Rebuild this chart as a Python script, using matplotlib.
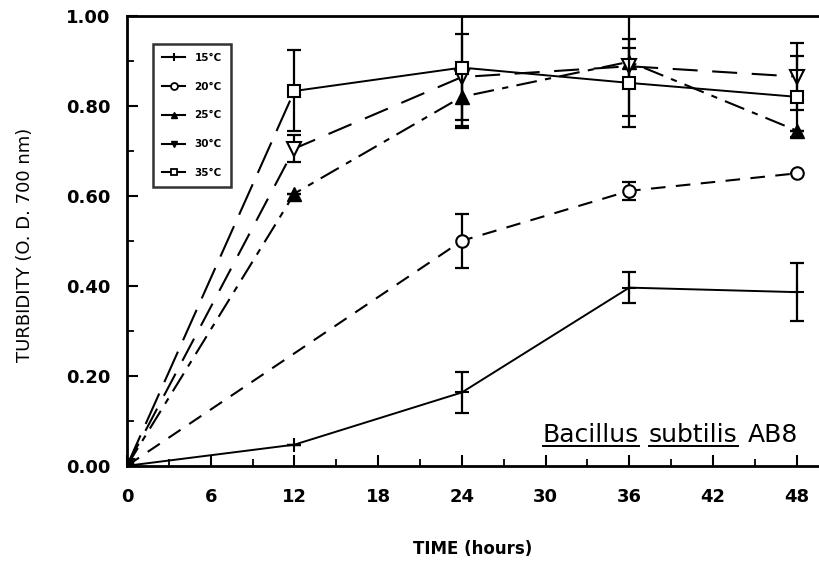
import matplotlib
matplotlib.use("Agg")
import matplotlib.pyplot as plt
from matplotlib.lines import Line2D
from matplotlib.ticker import MultipleLocator, FormatStrFormatter

plt.rcParams["font.family"] = ["DejaVu Sans"]

# data
hours = [0, 12, 24, 36, 48]
t15 = [0.0, 0.047, 0.163, 0.396, 0.386]
t15_err = [0, 0, 0.045, 0.035, 0.065]
t20 = [0.0, None, 0.50, 0.611, 0.650]
t20_err = [0, 0, 0.06, 0.02, 0]
t25 = [0.0, 0.605, 0.820, 0.898, 0.745]
t25_err = [0, 0, 0.07, 0.12, 0]
t30 = [0.0, 0.705, 0.864, 0.888, 0.865]
t30_err = [0, 0.03, 0.095, 0.04, 0.075]
t35 = [0.0, 0.833, 0.885, 0.851, 0.820]
t35_err = [0, 0.09, 0.13, 0.097, 0.09]
labels = ["15\u00b0C", "20\u00b0C", "25\u00b0C", "30\u00b0C", "35\u00b0C"]

fig = plt.figure(figsize=(8.19, 5.66), dpi=100)
ax = fig.add_axes([0.155, 0.177, 0.845, 0.795])

lw = 1.5
ekw = dict(ecolor="black", elinewidth=1.6, capsize=5, capthick=1.6, fmt="none")


def pts(y, e):
    xs, ys, es = [], [], []
    for h, v, d in zip(hours, y, e):
        if v is not None:
            xs.append(h)
            ys.append(v)
            es.append(d)
    return xs, ys, es


# 15 C - solid, plus markers
x, y, e = pts(t15, t15_err)
ax.errorbar(x, y, yerr=e, **ekw)
ax.plot(x, y, color="black", lw=1.4, marker="+", ms=10, mew=1.5)

# 20 C - short dashes, open circles
x, y, e = pts(t20, t20_err)
ax.errorbar(x, y, yerr=e, **ekw)
ax.plot(x, y, color="black", lw=lw, dashes=(7, 5), marker="o", ms=9,
        mfc="white", mew=1.5)

# 25 C - dash dot, filled triangles
x, y, e = pts(t25, t25_err)
ax.errorbar(x, y, yerr=e, **ekw)
ax.plot(x, y, color="black", lw=lw, dashes=(10, 4, 3, 4), marker="^", ms=10)

# 30 C - long dashes, open down triangles
x, y, e = pts(t30, t30_err)
ax.errorbar(x, y, yerr=e, **ekw)
ax.plot(x, y, color="black", lw=lw, dashes=(12, 7), marker="v", ms=10,
        mfc="white", mew=1.5)

# 35 C - long dashes to 12 h, solid afterwards, open squares
x, y, e = pts(t35, t35_err)
ax.errorbar(x, y, yerr=e, **ekw)
ax.plot(x[:2], y[:2], color="black", lw=lw, dashes=(16, 6))
ax.plot(x[1:], y[1:], color="black", lw=1.4, marker="s", ms=9,
        mfc="white", mew=1.5)
ax.plot(x[:1], y[:1], color="black", marker="s", ms=9, ls="none")

ax.set_xlim(0, 49.6)
ax.set_ylim(0, 1.0)
ax.xaxis.set_major_locator(MultipleLocator(6))
ax.xaxis.set_minor_locator(MultipleLocator(3))
ax.yaxis.set_major_locator(MultipleLocator(0.2))
ax.yaxis.set_minor_locator(MultipleLocator(0.1))
ax.yaxis.set_major_formatter(FormatStrFormatter("%.2f"))
ax.tick_params(which="major", direction="in", length=8, width=1.5,
               labelsize=13, pad=12)
ax.tick_params(which="minor", direction="in", length=5, width=1.3)
ax.tick_params(axis="x", pad=16)
for lab in ax.get_xticklabels() + ax.get_yticklabels():
    lab.set_fontweight("bold")
ax.spines["right"].set_visible(False)
for s in ["left", "bottom", "top"]:
    ax.spines[s].set_linewidth(2)

ax.set_xlabel("TIME (hours)", fontsize=12, fontweight="bold", va="top")
ax.xaxis.set_label_coords(0.5, -0.165)
ax.set_ylabel("TURBIDITY (O. D. 700 nm)", fontsize=13, va="center")
ax.yaxis.set_label_coords(-0.148, 0.49)

handles = [
    Line2D([], [], color="black", lw=1.5, marker="+", ms=6, mew=1.5),
    Line2D([], [], color="black", lw=1.5, marker="o", ms=5, mfc="white", mew=1.3),
    Line2D([], [], color="black", lw=1.5, marker="^", ms=5),
    Line2D([], [], color="black", lw=1.5, marker="v", ms=5),
    Line2D([], [], color="black", lw=1.5, marker="s", ms=5, mfc="white", mew=1.3),
]
leg = ax.legend(handles, labels, loc="upper left", bbox_to_anchor=(0.03, 0.95),
                prop=dict(size=7.5, weight="bold"), frameon=True, fancybox=False,
                edgecolor="black", handlelength=2.2, labelspacing=1.8,
                borderpad=0.9, handletextpad=0.9)
leg.get_frame().set_linewidth(1.8)

# species label, genus and species underlined, right edge near 48 h
words = ["Bacillus", "subtilis", "AB8"]
fig.canvas.draw()
r = fig.canvas.get_renderer()
W, H = fig.bbox.width, fig.bbox.height
texts = [fig.text(0, 0.219, w, fontsize=18, ha="left", va="baseline")
         for w in words]
widths = [t.get_window_extent(renderer=r).width for t in texts]
gap = 10
xpx = 798 - sum(widths) - gap * (len(words) - 1)
for i, t in enumerate(texts):
    t.set_x(xpx / W)
    if i < 2:
        yline = 0.219 - 4 / H
        fig.add_artist(Line2D([xpx / W, (xpx + widths[i]) / W], [yline, yline],
                              color="black", lw=1.4))
    xpx += widths[i] + gap

fig.savefig("out.png", dpi=100)
